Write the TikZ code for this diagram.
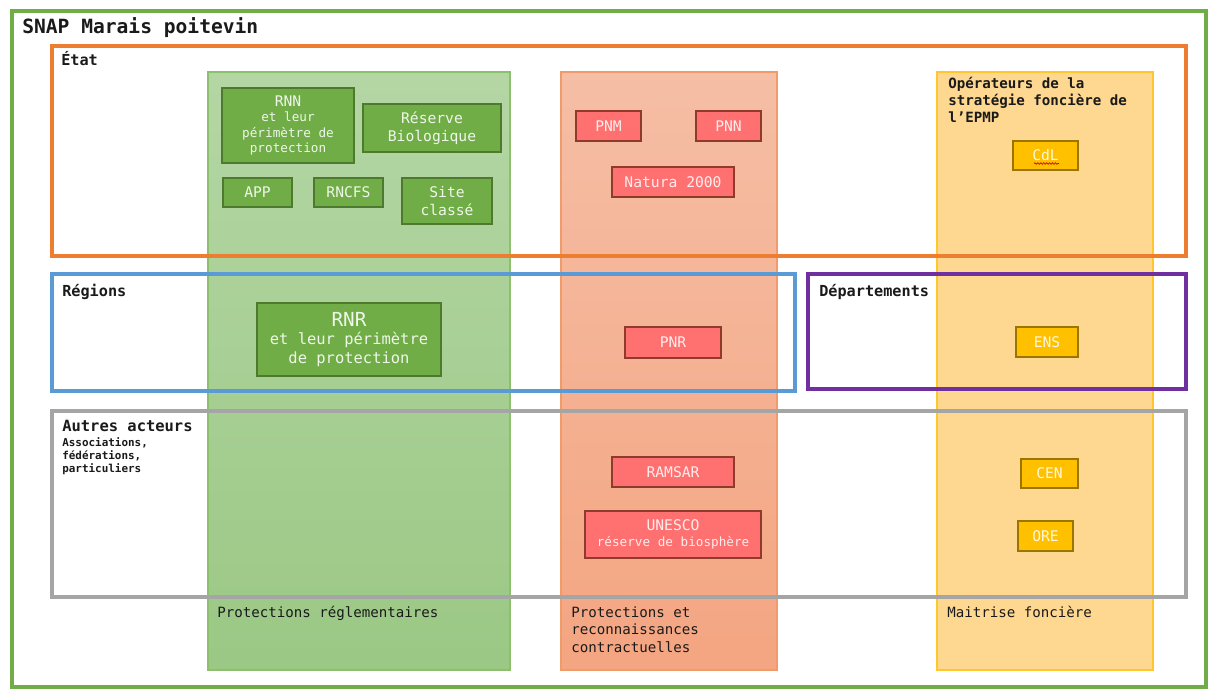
\documentclass[tikz,border=0pt]{standalone}
\usepackage{fontspec}
\setmainfont{DejaVu Sans Mono}
\usetikzlibrary{decorations.pathmorphing}
\definecolor{outergreen}{HTML}{70AD47}
\definecolor{frorange}{HTML}{ED7D31}
\definecolor{frblue}{HTML}{5B9BD5}
\definecolor{frpurple}{HTML}{7030A0}
\definecolor{frgray}{HTML}{A5A5A5}
\definecolor{colgtop}{HTML}{B4D6A4}
\definecolor{colgbot}{HTML}{9BC885}
\definecolor{colgdraw}{HTML}{8DC06C}
\definecolor{colrtop}{HTML}{F5BEA5}
\definecolor{colrbot}{HTML}{F4A581}
\definecolor{colrdraw}{HTML}{F19A6A}
\definecolor{colyfill}{HTML}{FED790}
\definecolor{colydraw}{HTML}{FFC72C}
\definecolor{gfill}{HTML}{70AD47}
\definecolor{gdraw}{HTML}{4E7A30}
\definecolor{gtxt}{HTML}{EFF6EA}
\definecolor{rfill}{HTML}{FF7070}
\definecolor{rdraw}{HTML}{8E3B2E}
\definecolor{rtxt}{HTML}{FFEDED}
\definecolor{yfill}{HTML}{FFC000}
\definecolor{ydraw}{HTML}{9A7500}
\definecolor{ytxt}{HTML}{FFF7E0}
\definecolor{lbl}{HTML}{1A1A1A}
\begin{document}
\begin{tikzpicture}[x=0.75pt,y=-0.75pt,
  frame/.style={line width=2.5pt},
  box/.style={draw, line width=0.9pt, inner sep=0pt, align=center},
  gbox/.style={box, fill=gfill, draw=gdraw, text=gtxt},
  rbox/.style={box, fill=rfill, draw=rdraw, text=rtxt},
  ybox/.style={box, fill=yfill, draw=ydraw, text=ytxt},
  sz/.style 2 args={minimum width=#1*0.75pt, minimum height=#2*0.75pt},
  bfont/.style={font=\fontsize{11}{13.5}\selectfont},
  lab/.style={anchor=base west, inner sep=0pt, text=lbl},
  hdr/.style={lab, font=\bfseries\fontsize{11.4}{13}\selectfont},
  coltxt/.style={lab, font=\fontsize{10.6}{13}\selectfont}
]
\useasboundingbox (0,0) rectangle (1212,689);
% outer frame
\draw[outergreen, line width=3.2pt] (12,11) rectangle (1206,687);
\node[lab, font=\bfseries\fontsize{14.7}{16}\selectfont] (title) at (22,33) {SNAP Marais poitevin};
% columns
\draw[colgdraw, line width=0.8pt, top color=colgtop, bottom color=colgbot] (208,72) rectangle (510,670);
\draw[colrdraw, line width=0.8pt, top color=colrtop, bottom color=colrbot] (561,72) rectangle (777,670);
\draw[colydraw, line width=0.8pt, fill=colyfill] (937,72) rectangle (1153,670);
% frames
\draw[frame, frorange] (52,46) rectangle (1186,256);
\draw[frame, frblue] (52,274) rectangle (795,391);
\draw[frame, frpurple] (808,274) rectangle (1186,389);
\draw[frame, frgray] (52,411) rectangle (1186,597);
% frame labels
\node[hdr] (etat) at (61,65) {État};
\node[hdr] (regions) at (62,296) {Régions};
\node[hdr] (depts) at (819,296) {Départements};
\node[hdr, font=\bfseries\fontsize{11.6}{13}\selectfont] (autres) at (62,431) {Autres acteurs};
\node[lab, font=\bfseries\fontsize{8.2}{10}\selectfont] (assoc1) at (62,446) {Associations,};
\node[lab, font=\bfseries\fontsize{8.2}{10}\selectfont] (assoc2) at (62,459) {fédérations,};
\node[lab, font=\bfseries\fontsize{8.2}{10}\selectfont] (assoc3) at (62,472) {particuliers};
\node[lab, font=\bfseries\fontsize{10.6}{13}\selectfont] (op1) at (948,88) {Opérateurs de la};
\node[lab, font=\bfseries\fontsize{10.6}{13}\selectfont] (op2) at (948,105) {stratégie foncière de};
\node[lab, font=\bfseries\fontsize{10.6}{13}\selectfont] (op3) at (948,122) {l’EPMP};
% column labels
\node[coltxt] (c1) at (217,617) {Protections réglementaires};
\node[coltxt] (c2a) at (571,617) {Protections et};
\node[coltxt] (c2b) at (571,634.5) {reconnaissances};
\node[coltxt] (c2c) at (571,652) {contractuelles};
\node[coltxt] (c3) at (947,617) {Maitrise foncière};
% green boxes
\node[gbox, sz={132}{75}, font=\fontsize{9.5}{11.6}\selectfont] (rnn) at (288,125.5) {{\fontsize{11}{11.6}\selectfont RNN}\\et leur\\périmètre de\\protection};
\node[gbox, sz={138}{48}, bfont] (resbio) at (432,128) {Réserve\\Biologique};
\node[gbox, sz={69}{29}, bfont] (app) at (257.5,192.5) {APP};
\node[gbox, sz={69}{29}, bfont] (rncfs) at (348.5,192.5) {RNCFS};
\node[gbox, sz={90}{46}, bfont] (site) at (447,201) {Site\\classé};
\node[gbox, sz={184}{73}, font=\fontsize{11.6}{14}\selectfont] (rnr) at (349,339.5) {{\fontsize{14.5}{15}\selectfont RNR}\\et leur périmètre\\de protection};
% red boxes
\node[rbox, sz={65}{30}, bfont] (pnm) at (608.5,126) {PNM};
\node[rbox, sz={65}{30}, bfont] (pnn) at (728.5,126) {PNN};
\node[rbox, sz={122}{30}, bfont] (natura) at (673,182) {Natura 2000};
\node[rbox, sz={96}{31}, bfont] (pnr) at (673,342.5) {PNR};
\node[rbox, sz={122}{30}, bfont] (ramsar) at (673,472) {RAMSAR};
\node[rbox, sz={176}{47}, font=\fontsize{9.5}{12}\selectfont] (unesco) at (673,534.5) {{\fontsize{11}{12}\selectfont UNESCO}\\réserve de biosphère};
% yellow boxes
\node[ybox, sz={65}{29}, bfont] (cdl) at (1045.5,155.5) {CdL};
\node[ybox, sz={62}{30}, bfont] (ens) at (1047,342) {ENS};
\node[ybox, sz={57}{29}, bfont] (cen) at (1049.5,473.5) {CEN};
\node[ybox, sz={55}{30}, bfont] (ore) at (1045.5,536) {ORE};
% spell-check wavy underline under CdL
\coordinate (wav1) at (1034,163.5);
\coordinate (wav2) at (1059,163.5);
\draw[red!85!black, line width=0.5pt, decorate, decoration={snake, amplitude=0.6pt, segment length=2.2pt}] (wav1) -- (wav2);
\end{tikzpicture}
\end{document}
